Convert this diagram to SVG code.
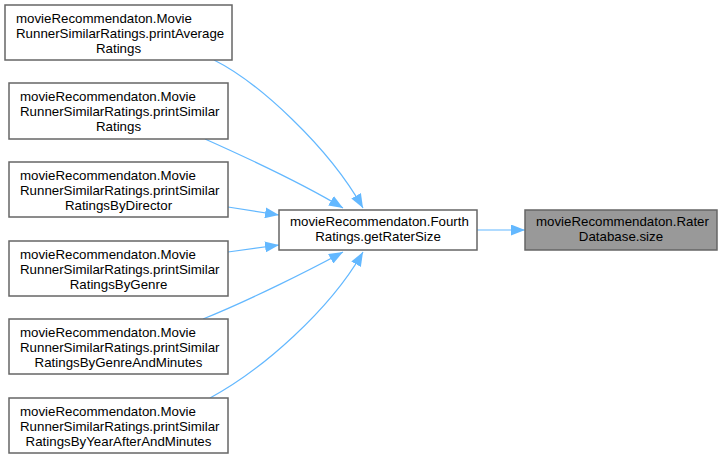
<svg xmlns="http://www.w3.org/2000/svg" width="723" height="459" viewBox="0 0 723 459">
<style>
.box{fill:#ffffff;stroke:#666666;stroke-width:1.5}
.hl{fill:#999999;stroke:#666666;stroke-width:1.5}
text{font-family:"Liberation Sans",Arial,Helvetica,sans-serif;font-size:13.3px;fill:#000000}
.m{text-anchor:middle}
.e{fill:none;stroke:#63b8ff;stroke-width:1.2}
</style>
<defs>
<marker id="ah" markerUnits="userSpaceOnUse" markerWidth="15" markerHeight="11" refX="14" refY="5.5" orient="auto">
<path d="M0,0 L14,5.5 L0,11 z" fill="#63b8ff"/>
</marker>
</defs>
<rect width="723" height="459" fill="#ffffff"/>
<g id="edges">
<path class="e" d="M214,60 C258,82 328,146 363,208" marker-end="url(#ah)"/>
<path class="e" d="M205,139 C252,160 310,188 343,208" marker-end="url(#ah)"/>
<path class="e" d="M228,207 L279,215" marker-end="url(#ah)"/>
<path class="e" d="M228,252 L279,245" marker-end="url(#ah)"/>
<path class="e" d="M203,319 C250,300 310,270 343,252" marker-end="url(#ah)"/>
<path class="e" d="M210,398 C262,370 330,310 363,252" marker-end="url(#ah)"/>
<path class="e" d="M477,230 L525,230" marker-end="url(#ah)"/>
</g>
<g id="node_avg">
<rect class="box" x="5" y="5" width="227" height="55"/>
<text x="16" y="22.5">movieRecommendaton.Movie</text>
<text x="16" y="37.5">RunnerSimilarRatings.printAverage</text>
<text class="m" x="118.5" y="52.5">Ratings</text>
</g>
<g id="node_sim">
<rect class="box" x="9" y="83" width="219" height="56"/>
<text x="20" y="100.5">movieRecommendaton.Movie</text>
<text x="20" y="115.5">RunnerSimilarRatings.printSimilar</text>
<text class="m" x="118.5" y="130.5">Ratings</text>
</g>
<g id="node_dir">
<rect class="box" x="9" y="162" width="219" height="55"/>
<text x="20" y="179.5">movieRecommendaton.Movie</text>
<text x="20" y="194.5">RunnerSimilarRatings.printSimilar</text>
<text class="m" x="118.5" y="209.5">RatingsByDirector</text>
</g>
<g id="node_genre">
<rect class="box" x="9" y="241" width="219" height="55"/>
<text x="20" y="258.5">movieRecommendaton.Movie</text>
<text x="20" y="273.5">RunnerSimilarRatings.printSimilar</text>
<text class="m" x="118.5" y="288.5">RatingsByGenre</text>
</g>
<g id="node_genremin">
<rect class="box" x="9" y="319" width="219" height="55"/>
<text x="20" y="336.5">movieRecommendaton.Movie</text>
<text x="20" y="351.5">RunnerSimilarRatings.printSimilar</text>
<text class="m" x="118.5" y="366.5">RatingsByGenreAndMinutes</text>
</g>
<g id="node_year">
<rect class="box" x="9" y="398" width="219" height="55"/>
<text x="20" y="415.5">movieRecommendaton.Movie</text>
<text x="20" y="430.5">RunnerSimilarRatings.printSimilar</text>
<text class="m" x="118.5" y="445.5">RatingsByYearAfterAndMinutes</text>
</g>
<g id="node_fourth">
<rect class="box" x="279" y="210" width="198" height="40"/>
<text x="290" y="226">movieRecommendaton.Fourth</text>
<text class="m" x="378" y="241">Ratings.getRaterSize</text>
</g>
<g id="node_size">
<rect class="hl" x="525" y="210" width="192" height="40"/>
<text x="536" y="226">movieRecommendaton.Rater</text>
<text class="m" x="621" y="241">Database.size</text>
</g>
</svg>
